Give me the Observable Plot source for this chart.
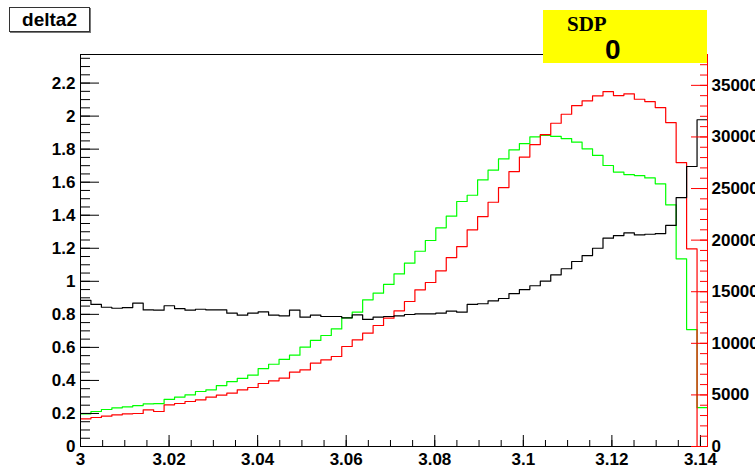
<!DOCTYPE html>
<html><head><meta charset="utf-8">
<script src="https://cdn.jsdelivr.net/npm/d3@7"></script>
<script src="https://cdn.jsdelivr.net/npm/@observablehq/plot@0.6"></script>
<style>
body{margin:0;background:#fff;}
#wrap{position:relative;width:755px;height:467px;overflow:hidden;}
#title{position:absolute;left:9px;top:7px;width:81px;height:25px;box-sizing:border-box;border:1px solid #333;box-shadow:1px 1px 0 #777;background:#fff;font:bold 19px "Liberation Sans",Arial,sans-serif;display:flex;align-items:center;justify-content:center;}
#sdp{position:absolute;left:543px;top:10px;width:164px;height:53px;background:#ffff00;}
#sdp .a{position:absolute;left:24px;top:4px;font:bold 21px "Liberation Serif",serif;line-height:1;}
#sdp .b{position:absolute;left:62px;top:26px;font:bold 28px "Liberation Sans",Arial,sans-serif;line-height:1;}
</style>
</head><body>
<div id="wrap">
<div id="chart"></div>
<div id="title">delta2</div>
<div id="sdp"><span class="a">SDP</span><span class="b">0</span></div>
</div>
<script>
// histogram binning: 60 bins from 3 to pi
const nBins = 60, xMin = 3, xMax = Math.PI;
const yMaxLeft = 2.373, yMaxRight = 37990;

// black histogram (left axis)
const black = [0.884,0.860,0.843,0.837,0.841,0.868,0.827,0.825,0.852,0.835,0.825,0.831,0.827,0.827,0.807,0.795,0.807,0.815,0.795,0.791,0.825,0.783,0.795,0.787,
0.787,0.779,0.797,0.769,0.783,0.787,0.791,0.799,0.803,0.803,0.807,0.819,0.813,0.860,0.864,0.882,0.896,0.926,0.950,0.973,1.001,1.039,1.076,1.120,1.156,1.200,1.261,1.277,1.293,1.281,1.285,1.289,1.338,1.507,1.695,1.978];
// green histogram (left axis)
const green = [0.198,0.212,0.224,0.234,0.240,0.248,0.258,0.260,0.285,0.299,0.313,0.333,0.343,0.369,0.393,0.412,0.432,0.472,0.498,0.527,0.553,0.601,0.642,0.672,
0.712,0.779,0.813,0.888,0.928,0.981,1.045,1.110,1.182,1.247,1.324,1.394,1.483,1.521,1.614,1.673,1.741,1.796,1.834,1.874,1.883,1.877,1.864,1.842,1.802,1.762,1.701,1.661,1.646,1.640,1.626,1.590,1.463,1.136,0.708,0.235];
// red histogram (right axis, counts)
const red = [2684,2810,2936,3072,3169,3198,3556,3392,4041,4167,4361,4525,4777,4971,5165,5494,5717,6105,6366,6618,7200,7432,8072,8401,
8721,9690,10339,10979,11725,12432,13149,14051,15184,15892,17025,18314,19380,20998,22287,23673,25097,26648,28053,29264,30233,31328,32200,33043,33498,33983,34400,34012,34177,33654,33431,32849,31396,27520,19157,0];

const xLabels = [3,3.02,3.04,3.06,3.08,3.1,3.12,3.14];
const leftLabels = [0,0.2,0.4,0.6,0.8,1,1.2,1.4,1.6,1.8,2,2.2];
const rightLabels = [0,5000,10000,15000,20000,25000,30000,35000];

const xMinor = d3.range(0, 29).map(i => 3 + i*0.005);
const leftMinor = d3.range(0, 48).map(i => i*0.05);
const rightMinor = d3.range(0, 38).map(i => i*1000);

const toLeft = r => r * yMaxLeft / yMaxRight;
const w = (xMax - xMin) / nBins;
function steps(vals, conv = v => v) {
  const pts = vals.map((v, i) => ({x: xMin + i*w, y: conv(v)}));
  pts.push({x: xMax, y: conv(vals[vals.length-1])});
  return pts;
}
const fmt = d => String(+(+d).toFixed(3));

const chart = Plot.plot({
  width: 755, height: 467,
  marginLeft: 80, marginRight: 48, marginTop: 54, marginBottom: 21,
  style: {fontFamily: "'Liberation Sans', Arial, sans-serif", fontSize: "17px", fontWeight: "bold", color: "black", background: "white"},
  x: {domain: [xMin, xMax], axis: null},
  y: {domain: [0, yMaxLeft], axis: null},
  marks: [
    Plot.line(steps(green), {x: "x", y: "y", curve: "step-after", stroke: "#00ff00", strokeWidth: 1.2}),
    Plot.line(steps(red, toLeft), {x: "x", y: "y", curve: "step-after", stroke: "#ff0000", strokeWidth: 1.2}),
    Plot.line(steps(black), {x: "x", y: "y", curve: "step-after", stroke: "black", strokeWidth: 1.2}),
    Plot.frame({stroke: "black"}),
    // left axis
    Plot.axisY({anchor: "left", ticks: leftMinor, tickSize: -10, tickFormat: () => "", label: null, stroke: "black"}),
    Plot.axisY({anchor: "left", ticks: leftLabels, tickSize: -19, tickFormat: () => "", label: null, stroke: "black"}),
    Plot.axisY({anchor: "left", ticks: leftLabels, tickSize: 0, tickPadding: 5, tickFormat: fmt, label: null}),
    // bottom axis
    Plot.axisX({anchor: "bottom", ticks: xMinor, tickSize: -6, tickFormat: () => "", label: null, stroke: "black"}),
    Plot.axisX({anchor: "bottom", ticks: xLabels, tickSize: -11, tickFormat: () => "", label: null, stroke: "black"}),
    Plot.axisX({anchor: "bottom", ticks: xLabels, tickSize: 0, tickPadding: 6, tickFormat: fmt, label: null}),
    // right axis (red)
    Plot.ruleX([xMax], {stroke: "#ff0000"}),
    Plot.axisY({anchor: "right", ticks: rightMinor.map(toLeft), tickSize: -8, tickFormat: () => "", label: null, stroke: "#ff0000"}),
    Plot.axisY({anchor: "right", ticks: rightLabels.map(toLeft), tickSize: -17, tickFormat: () => "", label: null, stroke: "#ff0000"}),
    Plot.axisY({anchor: "right", ticks: rightLabels.map(toLeft), tickSize: 0, tickPadding: 4, tickFormat: (d, i) => String(rightLabels[i]), label: null})
  ]
});
document.getElementById("chart").appendChild(chart);
</script>
</body></html>
